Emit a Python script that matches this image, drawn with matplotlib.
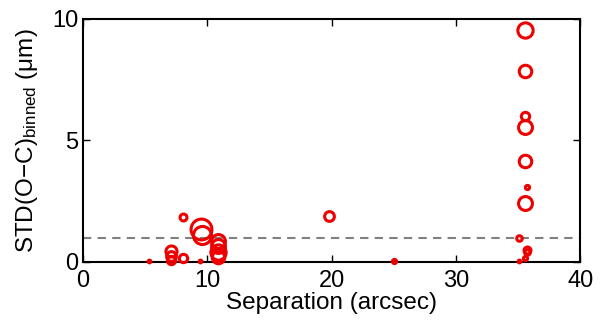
import matplotlib
matplotlib.use("Agg")
import matplotlib.pyplot as plt

plt.rcParams['font.family'] = ['Liberation Sans', 'DejaVu Sans']
plt.rcParams['mathtext.fontset'] = 'custom'
plt.rcParams['mathtext.rm'] = 'Liberation Sans'
plt.rcParams['mathtext.it'] = 'Liberation Sans'

# Separation (arcsec), STD (um), marker size (points diameter)
sep = [35.6, 35.6, 35.6, 35.6, 35.6, 35.7, 35.6, 35.1, 35.7, 35.7, 35.6, 35.1,
       19.8, 25.0,
       8.05, 9.5, 9.6, 10.9, 10.9, 10.9, 10.9, 10.9,
       7.1, 7.1, 7.1, 8.05, 9.4, 5.3]
std = [9.55, 7.85, 6.0, 5.55, 4.15, 3.1, 2.42, 1.0, 0.5, 0.4, 0.15, 0.05,
       1.9, 0.05,
       1.85, 1.35, 1.1, 0.85, 0.65, 0.4, 0.3, 0.2,
       0.45, 0.25, 0.1, 0.15, 0.02, 0.02]
msize = [11, 9, 6, 10, 9, 3, 10, 4, 5, 4, 3, 2,
         7, 3,
         5, 15, 13, 10, 10, 11, 9, 9,
         8, 7, 6, 6, 2, 2]

xticks = [0, 10, 20, 30, 40]
yticks = [0, 5, 10]
threshold = 1.0

fig = plt.figure(figsize=(6.0, 3.21), dpi=100)
ax = fig.add_axes([0.138, 0.184, 0.829, 0.757])

for x, y, m in zip(sep, std, msize):
    ax.plot(x, y, 'o', ms=m, mfc='none', mec='#ee0000', mew=2.2, clip_on=False, zorder=3)

ax.axhline(threshold, color='#808080', ls=(0, (4, 3)), lw=1.5, zorder=2)

ax.set_xlim(0, 40)
ax.set_ylim(0, 10)
ax.set_xticks(xticks)
ax.set_yticks(yticks)
ax.tick_params(direction='in', top=True, right=True, length=5, width=1, labelsize=17, pad=3)
ax.tick_params(axis='x', pad=6)
for s in ax.spines.values():
    s.set_linewidth(1.5)

ax.set_xlabel('Separation (arcsec)', fontsize=17.5, labelpad=0)
ax.set_ylabel(r'STD(O$-$C)$_{\rm binned}$ ($\mathrm{\mu}$m)', fontsize=17.5, labelpad=9)

fig.savefig('out.png', dpi=100)
